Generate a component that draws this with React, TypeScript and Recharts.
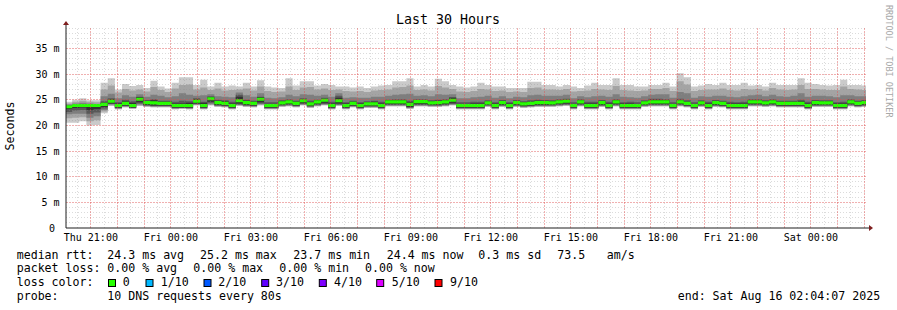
import React from 'react';
import { ComposedChart, Area, XAxis, YAxis, ReferenceLine, ReferenceDot } from 'recharts';

const FONT = "'DejaVu Sans Mono', monospace";

// time axis in minutes since Thu 00:00
const START = 1204.1; // Thu 20:04:07
const END = 3004.1; // Sat 02:04:07
const FIRST_BOUNDARY = 1218;
const STEP = 16; // consolidation step (minutes)
const Y_MAX = 39;
const MED_HALF = 0.3; // half thickness of median band (ms)

const xTicks = [1260, 1440, 1620, 1800, 1980, 2160, 2340, 2520, 2700, 2880];
const xTickLabels = ['Thu 21:00', 'Fri 00:00', 'Fri 03:00', 'Fri 06:00', 'Fri 09:00', 'Fri 12:00', 'Fri 15:00', 'Fri 18:00', 'Fri 21:00', 'Sat 00:00'];
const yTicks = [0, 5, 10, 15, 20, 25, 30, 35];
const yTickLabels = ['0', '5 m', '10 m', '15 m', '20 m', '25 m', '30 m', '35 m'];

// sorted ping rtt per column (ms): p10 = max ... p1 = min, plus median
const p10 = [24.6, 25.0, 25.3, 24.9, 24.9, 28.3, 29.2, 27.0, 28.1, 27.7, 27.9, 27.3, 28.7, 27.6, 27.2, 28.3, 29.4, 29.4, 27.9, 28.9, 27.6, 28.3, 27.6, 27.8, 27.6, 28.3, 27.6, 28.8, 27.6, 27.4, 27.3, 29.2, 27.8, 28.6, 28.6, 27.8, 28.1, 27.9, 27.6, 27.6, 27.4, 27.6, 27.3, 27.6, 27.8, 27.9, 28.6, 28.6, 29.2, 27.6, 27.9, 27.6, 29.1, 28.6, 27.9, 27.6, 27.4, 27.6, 28.3, 27.9, 27.6, 27.6, 27.3, 27.3, 27.3, 28.5, 28.5, 27.9, 27.9, 27.6, 27.9, 27.6, 27.3, 27.8, 28.3, 27.9, 27.9, 29.2, 27.9, 27.9, 27.6, 27.6, 27.9, 27.9, 28.3, 27.6, 30.2, 29.4, 27.6, 27.8, 28.1, 27.9, 28.3, 27.9, 27.9, 28.3, 27.8, 27.9, 27.6, 28.3, 27.9, 27.9, 27.9, 29.2, 28.3, 28.1, 27.9, 27.8, 27.9, 28.9, 27.9, 27.9, 27.8];
const p9 = [24.3, 24.6, 24.8, 24.6, 24.5, 27.0, 27.8, 26.4, 27.1, 26.8, 27.0, 26.6, 27.5, 26.9, 26.5, 27.2, 27.9, 28.0, 27.0, 27.4, 26.9, 27.2, 26.8, 26.9, 27.0, 27.2, 26.8, 27.6, 26.7, 26.5, 26.6, 27.6, 26.9, 27.4, 27.5, 27.0, 27.2, 26.9, 27.0, 26.7, 26.6, 26.7, 26.5, 26.8, 26.9, 27.0, 27.4, 27.5, 27.8, 26.9, 27.0, 26.8, 27.7, 27.4, 27.1, 26.6, 26.5, 26.7, 27.1, 27.0, 26.7, 26.8, 26.5, 26.6, 26.5, 27.3, 27.4, 27.0, 27.0, 26.9, 27.1, 26.6, 26.7, 26.8, 27.1, 27.0, 26.9, 27.7, 26.9, 26.8, 26.7, 26.8, 27.1, 27.1, 27.3, 26.7, 28.6, 28.0, 26.7, 26.9, 27.0, 27.0, 27.2, 26.9, 26.8, 27.1, 27.0, 27.1, 26.8, 27.3, 27.0, 26.9, 27.0, 27.9, 27.1, 27.1, 27.0, 26.9, 26.9, 27.6, 27.1, 27.0, 26.9];
const p8 = [24.1, 24.3, 24.4, 24.3, 24.2, 25.7, 26.2, 25.3, 25.9, 25.6, 26.1, 25.6, 26.0, 25.8, 25.5, 25.7, 26.3, 26.0, 25.8, 25.9, 26.1, 25.7, 25.6, 25.5, 26.4, 25.9, 25.6, 26.3, 25.4, 25.3, 25.5, 26.0, 25.7, 26.1, 26.0, 25.8, 26.0, 25.6, 26.3, 25.4, 25.5, 25.4, 25.4, 25.6, 25.6, 25.8, 26.0, 26.1, 26.2, 25.8, 25.9, 25.7, 26.1, 26.0, 26.1, 25.3, 25.3, 25.5, 25.6, 25.8, 25.4, 25.7, 25.3, 25.6, 25.5, 25.9, 26.0, 25.8, 25.8, 25.8, 26.0, 25.3, 25.7, 25.5, 25.7, 25.8, 25.6, 26.1, 25.6, 25.5, 25.4, 25.7, 26.0, 26.1, 26.1, 25.4, 26.5, 26.3, 25.4, 25.7, 25.6, 25.8, 25.8, 25.6, 25.5, 25.7, 25.9, 26.0, 25.7, 26.0, 25.7, 25.6, 25.8, 26.3, 25.6, 25.8, 25.8, 25.7, 25.5, 25.9, 25.9, 25.7, 25.7];
const p7 = [23.9, 24.1, 24.1, 24.1, 24.1, 24.7, 25.3, 24.5, 25.0, 24.7, 25.6, 24.9, 25.1, 24.8, 24.8, 24.6, 24.8, 24.7, 25.3, 24.6, 25.7, 25.0, 24.9, 24.6, 26.0, 25.0, 24.8, 25.6, 24.5, 24.5, 24.9, 25.1, 24.8, 25.3, 24.8, 25.0, 25.4, 24.6, 25.8, 24.5, 24.8, 24.5, 24.7, 24.8, 24.6, 25.0, 25.1, 25.1, 24.8, 25.1, 25.1, 24.9, 25.0, 25.1, 25.5, 24.5, 24.5, 24.6, 24.6, 24.9, 24.5, 24.9, 24.5, 24.9, 24.7, 24.9, 25.0, 24.9, 24.9, 25.1, 25.2, 24.5, 25.1, 24.6, 24.6, 24.9, 24.6, 25.1, 24.5, 24.6, 24.5, 24.9, 25.2, 25.2, 25.1, 24.5, 25.2, 24.9, 24.5, 24.9, 24.6, 24.9, 24.8, 24.6, 24.5, 24.6, 25.1, 25.1, 24.9, 25.1, 24.8, 24.8, 24.8, 25.0, 24.6, 24.9, 24.9, 24.9, 24.5, 24.6, 25.1, 24.8, 24.9];
const p6 = [23.8, 24.0, 24.0, 24.0, 24.0, 24.4, 25.1, 24.3, 24.7, 24.4, 25.5, 24.8, 24.9, 24.6, 24.6, 24.3, 24.3, 24.4, 25.1, 24.4, 25.5, 24.8, 24.7, 24.3, 25.6, 24.8, 24.6, 25.5, 24.2, 24.2, 24.7, 24.9, 24.6, 25.1, 24.5, 24.9, 25.2, 24.3, 25.4, 24.3, 24.6, 24.3, 24.5, 24.6, 24.3, 24.9, 24.9, 24.9, 24.5, 24.9, 24.9, 24.7, 24.8, 24.9, 25.4, 24.2, 24.2, 24.3, 24.3, 24.7, 24.3, 24.8, 24.3, 24.8, 24.5, 24.6, 24.8, 24.8, 24.7, 24.9, 25.0, 24.2, 24.9, 24.3, 24.3, 24.8, 24.3, 24.9, 24.3, 24.3, 24.2, 24.7, 25.0, 25.0, 24.9, 24.2, 24.9, 24.6, 24.2, 24.7, 24.3, 24.8, 24.6, 24.3, 24.3, 24.3, 24.9, 24.9, 24.7, 24.9, 24.6, 24.6, 24.6, 24.7, 24.3, 24.8, 24.7, 24.7, 24.3, 24.3, 24.9, 24.6, 24.8];
const med = [23.65, 23.9, 23.9, 23.9, 23.9, 24.1, 24.7, 23.9, 24.3, 23.9, 25.1, 24.45, 24.4, 24.3, 24.3, 23.9, 23.9, 23.9, 24.7, 23.9, 25.2, 24.45, 24.3, 23.9, 24.8, 24.45, 24.3, 25.1, 23.9, 23.9, 24.4, 24.6, 24.3, 24.8, 24.2, 24.6, 24.9, 23.9, 24.8, 23.9, 24.3, 23.9, 24.2, 24.2, 23.9, 24.6, 24.6, 24.6, 24.1, 24.65, 24.65, 24.4, 24.45, 24.6, 24.9, 23.9, 23.9, 23.9, 23.9, 24.4, 23.9, 24.45, 23.9, 24.45, 24.2, 24.3, 24.45, 24.45, 24.4, 24.6, 24.7, 23.9, 24.6, 23.9, 23.9, 24.45, 23.9, 24.6, 23.9, 23.9, 23.9, 24.4, 24.6, 24.6, 24.6, 23.9, 24.6, 24.3, 23.9, 24.4, 23.9, 24.45, 24.3, 23.9, 23.9, 23.9, 24.6, 24.6, 24.4, 24.6, 24.3, 24.3, 24.3, 24.3, 23.9, 24.45, 24.4, 24.4, 23.9, 23.9, 24.6, 24.3, 24.45];
const p5 = [23.2, 23.4, 23.5, 23.0, 23.2, 23.6, 24.3, 23.5, 23.9, 23.5, 24.5, 24.0, 23.9, 23.9, 23.9, 23.5, 23.5, 23.5, 24.3, 23.5, 24.6, 24.0, 23.9, 23.5, 24.3, 24.0, 23.9, 24.5, 23.5, 23.5, 24.0, 24.2, 23.9, 24.4, 23.8, 24.2, 24.4, 23.5, 24.3, 23.5, 23.9, 23.5, 23.8, 23.8, 23.5, 24.2, 24.2, 24.2, 23.6, 24.2, 24.2, 24.0, 24.0, 24.2, 24.4, 23.5, 23.5, 23.5, 23.5, 24.0, 23.5, 24.0, 23.5, 24.0, 23.8, 23.9, 24.0, 24.0, 24.0, 24.2, 24.3, 23.5, 24.2, 23.5, 23.5, 24.0, 23.5, 24.2, 23.5, 23.5, 23.5, 24.0, 24.2, 24.2, 24.2, 23.5, 24.2, 23.9, 23.5, 24.0, 23.5, 24.0, 23.9, 23.5, 23.5, 23.5, 24.2, 24.2, 24.0, 24.2, 23.9, 23.9, 23.9, 23.9, 23.5, 24.0, 24.0, 24.0, 23.5, 23.5, 24.2, 23.9, 24.0];
const p4 = [22.6, 22.9, 23.0, 22.3, 22.5, 23.3, 24.2, 23.4, 23.8, 23.4, 24.3, 23.9, 23.8, 23.8, 23.8, 23.4, 23.4, 23.4, 24.2, 23.4, 24.4, 23.9, 23.8, 23.4, 24.1, 23.9, 23.8, 24.3, 23.4, 23.4, 23.9, 24.0, 23.8, 24.2, 23.7, 24.0, 24.2, 23.4, 24.1, 23.4, 23.8, 23.4, 23.7, 23.7, 23.4, 24.0, 24.0, 24.0, 23.5, 24.0, 24.0, 23.9, 23.9, 24.0, 24.2, 23.4, 23.4, 23.4, 23.4, 23.9, 23.4, 23.9, 23.4, 23.9, 23.7, 23.8, 23.9, 23.9, 23.9, 24.0, 24.1, 23.4, 24.0, 23.4, 23.4, 23.9, 23.4, 24.0, 23.4, 23.4, 23.4, 23.9, 24.0, 24.0, 24.0, 23.4, 24.0, 23.8, 23.4, 23.9, 23.4, 23.9, 23.8, 23.4, 23.4, 23.4, 24.0, 24.0, 23.9, 24.0, 23.8, 23.8, 23.8, 23.8, 23.4, 23.9, 23.9, 23.9, 23.4, 23.4, 24.0, 23.8, 23.9];
const p3 = [22.2, 22.3, 22.3, 21.5, 21.8, 23.0, 24.1, 23.3, 23.7, 23.4, 24.1, 23.8, 23.7, 23.7, 23.7, 23.3, 23.4, 23.3, 24.1, 23.3, 24.2, 23.8, 23.7, 23.3, 24.0, 23.8, 23.7, 24.2, 23.3, 23.3, 23.8, 23.9, 23.7, 24.1, 23.6, 23.9, 24.1, 23.3, 24.0, 23.3, 23.7, 23.3, 23.6, 23.6, 23.3, 23.9, 23.9, 23.9, 23.4, 23.9, 23.9, 23.8, 23.8, 23.9, 24.1, 23.3, 23.3, 23.3, 23.3, 23.8, 23.3, 23.8, 23.3, 23.8, 23.6, 23.7, 23.8, 23.8, 23.8, 23.9, 24.0, 23.3, 23.9, 23.3, 23.3, 23.8, 23.3, 23.9, 23.3, 23.3, 23.3, 23.8, 23.9, 23.9, 23.9, 23.3, 23.9, 23.7, 23.3, 23.8, 23.3, 23.8, 23.7, 23.3, 23.3, 23.3, 23.9, 23.9, 23.8, 23.9, 23.7, 23.7, 23.7, 23.7, 23.3, 23.8, 23.8, 23.8, 23.3, 23.3, 23.9, 23.7, 23.8];
const p2 = [21.4, 21.5, 21.6, 20.8, 21.0, 22.7, 23.9, 23.2, 23.6, 23.3, 23.9, 23.7, 23.6, 23.6, 23.6, 23.2, 23.3, 23.2, 24.0, 23.2, 24.0, 23.7, 23.6, 23.2, 23.9, 23.7, 23.6, 24.0, 23.2, 23.2, 23.7, 23.8, 23.6, 24.0, 23.5, 23.8, 24.0, 23.2, 23.9, 23.2, 23.6, 23.2, 23.5, 23.5, 23.2, 23.8, 23.8, 23.8, 23.3, 23.8, 23.8, 23.7, 23.7, 23.8, 24.0, 23.2, 23.2, 23.2, 23.2, 23.7, 23.2, 23.7, 23.2, 23.7, 23.5, 23.6, 23.7, 23.7, 23.7, 23.8, 23.9, 23.2, 23.8, 23.2, 23.2, 23.7, 23.2, 23.8, 23.2, 23.2, 23.2, 23.7, 23.8, 23.8, 23.8, 23.2, 23.8, 23.6, 23.2, 23.7, 23.2, 23.7, 23.6, 23.2, 23.2, 23.2, 23.8, 23.8, 23.7, 23.8, 23.6, 23.6, 23.6, 23.6, 23.2, 23.7, 23.7, 23.7, 23.2, 23.2, 23.8, 23.6, 23.7];
const p1 = [20.5, 20.5, 20.8, 20.0, 20.1, 22.4, 23.8, 23.1, 23.5, 23.2, 23.8, 23.6, 23.5, 23.5, 23.5, 23.1, 23.2, 23.1, 23.9, 23.1, 23.9, 23.6, 23.5, 23.1, 23.8, 23.6, 23.5, 23.9, 23.1, 23.1, 23.6, 23.7, 23.5, 23.9, 23.4, 23.7, 23.9, 23.1, 23.8, 23.1, 23.5, 23.1, 23.4, 23.4, 23.1, 23.7, 23.7, 23.7, 23.2, 23.7, 23.7, 23.6, 23.6, 23.7, 23.9, 23.1, 23.1, 23.1, 23.1, 23.6, 23.1, 23.6, 23.1, 23.6, 23.4, 23.5, 23.6, 23.6, 23.6, 23.7, 23.8, 23.1, 23.7, 23.1, 23.1, 23.6, 23.1, 23.7, 23.1, 23.1, 23.1, 23.6, 23.7, 23.7, 23.7, 23.1, 23.7, 23.5, 23.1, 23.6, 23.1, 23.6, 23.5, 23.1, 23.1, 23.1, 23.7, 23.7, 23.6, 23.7, 23.5, 23.5, 23.5, 23.5, 23.1, 23.6, 23.6, 23.6, 23.1, 23.1, 23.7, 23.5, 23.6];

const colStart = p10.map((_, i) => (i === 0 ? START : FIRST_BOUNDARY + STEP * (i - 1)));
const rows: any[] = colStart.map((t, i) => ({
  t,
  l1: [p1[i], p10[i]],
  l2: [p2[i], p9[i]],
  l3: [p3[i], p8[i]],
  l4: [p4[i], p7[i]],
  l5: [p5[i], p6[i]],
  md: [med[i] - MED_HALF, med[i] + MED_HALF],
}));
rows.push({ ...rows[rows.length - 1], t: END });

const hourLines: number[] = [];
for (let t = 1260; t <= 3000; t += 60) hourLines.push(t);
const halfLines: number[] = [];
for (let t = 1230; t <= 3000; t += 60) halfLines.push(t);
const majorY = [5, 10, 15, 20, 25, 30, 35];
const minorY: number[] = [];
for (let v = 1; v <= Y_MAX; v++) if (v % 5 !== 0) minorY.push(v);

const layerColors = ['#cacaca', '#a4a4a4', '#7e7e7e', '#585858', '#323232'];

const statsRow1 = [
  { x: 16.7, s: 'median rtt:' },
  { x: 107.3, s: '24.3 ms avg' },
  { x: 200, s: '25.2 ms max' },
  { x: 293.3, s: '23.7 ms min' },
  { x: 386.7, s: '24.4 ms now' },
  { x: 478.3, s: '0.3 ms sd' },
  { x: 557.3, s: '73.5' },
  { x: 606.7, s: 'am/s' },
];
const statsRow2 = [
  { x: 16.7, s: 'packet loss:' },
  { x: 107.3, s: '0.00 % avg' },
  { x: 193.3, s: '0.00 % max' },
  { x: 279.3, s: '0.00 % min' },
  { x: 365, s: '0.00 % now' },
];
const lossLabels = ['0', '1/10', '2/10', '3/10', '4/10', '5/10', '9/10'];
const lossColors = ['#26ff00', '#00b8ff', '#0059ff', '#5e00ff', '#7e00ff', '#dd00ff', '#ff0000'];
const lossSwatchX = [108.5, 146, 204, 261.7, 319.3, 376.7, 435];
const lossTextX = [122.7, 160.7, 218.3, 276, 334, 391.7, 450];

const AXIS = '#1f1f1f';
const ARROW = '#7f1f1f';

const YTick = (props: any) => {
  const { x, y, payload } = props;
  const v = Number(payload.value);
  return (
    <text x={v === 0 ? x - 4.5 : x} y={y} dy="0.36em" textAnchor="end" fontFamily={FONT} fontSize={10} fill="#000">
      {yTickLabels[yTicks.indexOf(v)]}
    </text>
  );
};

export default function App() {
  return (
    <div style={{ position: 'absolute', left: 0, top: 0, width: 897, height: 310, background: '#fff' }}>
      <ComposedChart width={897} height={310} data={rows} margin={{ top: 28, right: 31, bottom: 62, left: 16 }}>
        <XAxis
          dataKey="t"
          type="number"
          domain={[START, END]}
          ticks={xTicks}
          interval={0}
          allowDataOverflow
          tickLine={false}
          tickSize={0}
          tickMargin={6}
          height={20}
          axisLine={{ stroke: AXIS, strokeWidth: 1 }}
          tick={{ fontFamily: FONT, fontSize: 10, fill: '#000' }}
          tickFormatter={(v: number) => xTickLabels[xTicks.indexOf(v)]}
        />
        <YAxis
          type="number"
          domain={[0, Y_MAX]}
          ticks={yTicks}
          interval={0}
          allowDataOverflow
          tickLine={false}
          tickSize={0}
          tickMargin={6.5}
          width={50}
          axisLine={{ stroke: AXIS, strokeWidth: 1 }}
          tick={<YTick />}
        />
        {(['l1', 'l2', 'l3', 'l4', 'l5'] as const).map((k, i) => (
          <Area
            key={k}
            dataKey={k}
            type="stepAfter"
            stroke="none"
            fill={layerColors[i]}
            fillOpacity={1}
            dot={false}
            activeDot={false}
            isAnimationActive={false}
          />
        ))}
        <Area dataKey="md" type="stepAfter" stroke="none" fill="#26ff00" fillOpacity={1} dot={false} activeDot={false} isAnimationActive={false} />
        {halfLines.map((t) => (
          <ReferenceLine key={'h' + t} x={t} stroke="#8f8f8f" strokeOpacity={0.32} strokeDasharray="1 2" shapeRendering="crispEdges" />
        ))}
        {minorY.map((v) => (
          <ReferenceLine key={'my' + v} y={v} stroke="#8f8f8f" strokeOpacity={0.32} strokeDasharray="1 2" shapeRendering="crispEdges" />
        ))}
        {hourLines.map((t) => (
          <ReferenceLine key={'H' + t} x={t} stroke="#de5050" strokeOpacity={0.45} strokeDasharray="2 1" shapeRendering="crispEdges" />
        ))}
        {majorY.map((v) => (
          <ReferenceLine key={'MY' + v} y={v} stroke="#de5050" strokeOpacity={0.45} strokeDasharray="2 1" shapeRendering="crispEdges" />
        ))}
        <ReferenceDot
          x={END}
          y={0}
          ifOverflow="visible"
          shape={(p: any) => (
            <g>
              <line x1={p.cx} y1={p.cy} x2={p.cx + 3} y2={p.cy} stroke={AXIS} />
              <path d={`M${p.cx + 3},${p.cy - 3} L${p.cx + 7},${p.cy} L${p.cx + 3},${p.cy + 3} Z`} fill={ARROW} />
            </g>
          )}
        />
        <ReferenceDot
          x={START}
          y={Y_MAX}
          ifOverflow="visible"
          shape={(p: any) => (
            <g>
              <line x1={p.cx} y1={p.cy} x2={p.cx} y2={p.cy - 3} stroke={AXIS} />
              <path d={`M${p.cx - 3},${p.cy - 3} L${p.cx},${p.cy - 7} L${p.cx + 3},${p.cy - 3} Z`} fill={ARROW} />
            </g>
          )}
        />
      </ComposedChart>
      <svg width={897} height={310} style={{ position: 'absolute', left: 0, top: 0, pointerEvents: 'none' }}>
        <text x={448} y={23.5} textAnchor="middle" fontFamily={FONT} fontSize={13.3} fill="#000">Last 30 Hours</text>
        <text transform="translate(13.5,126) rotate(-90)" textAnchor="middle" fontFamily={FONT} fontSize={11.6} fill="#000">Seconds</text>
        <text transform="translate(886,5) rotate(90)" textAnchor="start" fontFamily={FONT} fontSize={8.5} fill="#a8a8a8">RRDTOOL / TOBI OETIKER</text>
        <g fontFamily={FONT} fontSize={11.6} fill="#000">
          {statsRow1.map((d) => (
            <text key={'r1' + d.x} x={d.x} y={258.7}>{d.s}</text>
          ))}
          {statsRow2.map((d) => (
            <text key={'r2' + d.x} x={d.x} y={272.3}>{d.s}</text>
          ))}
          <text x={16.7} y={286}>loss color:</text>
          {lossLabels.map((s, i) => (
            <g key={s}>
              <rect x={lossSwatchX[i]} y={279.5} width={7} height={7} fill={lossColors[i]} stroke="#000" strokeWidth={1} />
              <text x={lossTextX[i]} y={286}>{s}</text>
            </g>
          ))}
          <text x={16.7} y={299.6}>probe:</text>
          <text x={107.3} y={299.6}>10 DNS requests every 80s</text>
          <text x={677.7} y={299.6}>end: Sat Aug 16 02:04:07 2025</text>
        </g>
      </svg>
    </div>
  );
}
